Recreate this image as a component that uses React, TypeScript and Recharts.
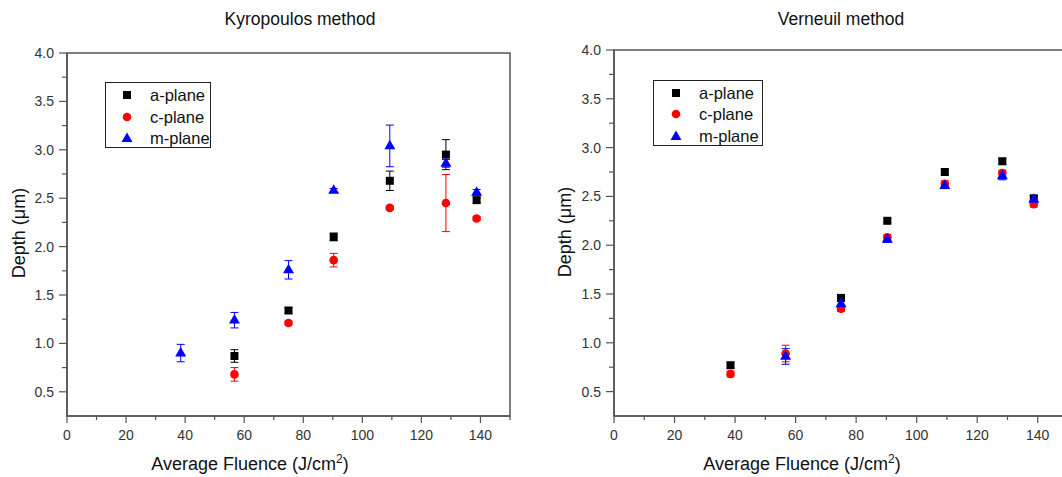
import { ErrorBar, Legend, ReferenceArea, Scatter, ScatterChart, XAxis, YAxis } from "recharts";

const AXIS = "#555";
const TICK = "#333";
const FONT = "'Liberation Sans', Arial, sans-serif";

// fluence values (J/cm2), same for both crystals
const fluence = [38.5, 56.7, 75.0, 90.3, 109.3, 128.3, 138.7];

const xTicks = [0, 10, 20, 30, 40, 50, 60, 70, 80, 90, 100, 110, 120, 130, 140, 150];
const yTicks = [0.5, 0.75, 1.0, 1.25, 1.5, 1.75, 2.0, 2.25, 2.5, 2.75, 3.0, 3.25, 3.5, 3.75, 4.0];

// Kyropoulos
const kyroA = [null, 0.87, 1.34, 2.1, 2.68, 2.95, 2.48];
const kyroAErr = [null, 0.065, 0.03, 0.04, 0.1, 0.155, 0.03];
const kyroC = [null, 0.68, 1.21, 1.86, 2.4, 2.45, 2.29];
const kyroCErr = [null, 0.07, 0.02, 0.07, 0.02, 0.295, 0.02];
const kyroM = [0.9, 1.24, 1.76, 2.58, 3.04, 2.86, 2.56];
const kyroMErr = [0.09, 0.08, 0.095, 0.02, 0.215, 0.04, 0.03];

// Verneuil
const vernA = [0.77, null, 1.46, 2.25, 2.75, 2.86, 2.48];
const vernAErr = [0.03, null, 0.03, 0.02, 0.03, 0.03, 0.03];
const vernC = [0.68, 0.89, 1.35, 2.08, 2.63, 2.74, 2.42];
const vernCErr = [0.03, 0.085, 0.03, 0.03, 0.03, 0.03, 0.03];
const vernM = [null, 0.86, 1.4, 2.06, 2.61, 2.71, 2.47];
const vernMErr = [null, 0.08, 0.03, 0.03, 0.03, 0.04, 0.04];

const seriesNames = ["a-plane", "c-plane", "m-plane"];
const seriesColors = ["#000000", "#ff0000", "#0000ff"];

type Pt = { x: number; y: number; e: number };

function toPoints(ys: (number | null)[], es: (number | null)[]): Pt[] {
  const out: Pt[] = [];
  fluence.forEach((x, i) => {
    const y = ys[i];
    if (y != null) out.push({ x, y, e: es[i] ?? 0 });
  });
  return out;
}

const Square = (p: any) => <rect x={p.cx - 4} y={p.cy - 4} width={8} height={8} fill={seriesColors[0]} />;
const Dot = (p: any) => <circle cx={p.cx} cy={p.cy} r={4.3} fill={seriesColors[1]} />;
const Tri = (p: any) => (
  <path d={`M${p.cx},${p.cy - 6.2}L${p.cx - 5.5},${p.cy + 3.4}L${p.cx + 5.5},${p.cy + 3.4}Z`} fill={seriesColors[2]} />
);
const shapes = [Square, Dot, Tri];

function XTick(props: any) {
  const { x, y, payload } = props;
  const major = payload.value % 20 === 0;
  return (
    <g>
      <line x1={x} x2={x} y1={y} y2={y + (major ? 7 : 4)} stroke={AXIS} strokeWidth={1.2} />
      {major && (
        <text x={x} y={y + 24} textAnchor="middle" fontSize={14} fill={TICK} fontFamily={FONT}>
          {payload.value}
        </text>
      )}
    </g>
  );
}

function YTick(props: any) {
  const { x, y, payload } = props;
  const v = payload.value as number;
  const major = Math.abs(v * 2 - Math.round(v * 2)) < 1e-6;
  return (
    <g>
      <line x1={x - (major ? 8 : 5)} x2={x} y1={y} y2={y} stroke={AXIS} strokeWidth={1.2} />
      {major && (
        <text x={x - 13} y={y + 5} textAnchor="end" fontSize={14} fill={TICK} fontFamily={FONT}>
          {v.toFixed(1)}
        </text>
      )}
    </g>
  );
}

function LegendBox({ width, markerX, textX, rows }: { width: number; markerX: number; textX: number; rows: number[] }) {
  return (
    <div
      style={{
        position: "relative",
        width,
        height: 66,
        border: "1px solid #222",
        boxSizing: "border-box",
        background: "#fff",
        fontFamily: FONT,
        fontSize: 16.5,
        color: "#111",
      }}
    >
      {seriesNames.map((name, i) => (
        <div key={name} style={{ position: "absolute", left: 0, top: rows[i] - 11, height: 22, width: "100%" }}>
          <svg width={14} height={14} style={{ position: "absolute", left: markerX - 7, top: 4 }}>
            {i === 0 && <rect x={3} y={3} width={8} height={8} fill={seriesColors[0]} />}
            {i === 1 && <circle cx={7} cy={7} r={4.3} fill={seriesColors[1]} />}
            {i === 2 && <path d="M7,1.5L1.5,11L12.5,11Z" fill={seriesColors[2]} />}
          </svg>
          <span style={{ position: "absolute", left: textX, top: 0, lineHeight: "22px" }}>{name}</span>
        </div>
      ))}
    </div>
  );
}

type PanelProps = {
  left: number;
  width: number;
  margin: { top: number; right: number; bottom: number; left: number };
  yAxisWidth: number;
  sets: Pt[][];
  legendPos: { left: number; top: number };
  legendBox: { width: number; markerX: number; textX: number; rows: number[] };
};

function Panel({ left, width, margin, yAxisWidth, sets, legendPos, legendBox }: PanelProps) {
  return (
    <div style={{ position: "absolute", left, top: 0 }}>
      <ScatterChart width={width} height={477} margin={margin}>
        <XAxis
          dataKey="x"
          type="number"
          domain={[0, 150]}
          ticks={xTicks}
          interval={0}
          height={50}
          tickSize={0}
          tickMargin={0}
          tickLine={false}
          axisLine={{ stroke: AXIS, strokeWidth: 1.5 }}
          tick={XTick}
        />
        <YAxis
          dataKey="y"
          type="number"
          domain={[0.25, 4]}
          ticks={yTicks}
          interval={0}
          width={yAxisWidth}
          tickSize={0}
          tickMargin={0}
          tickLine={false}
          axisLine={{ stroke: AXIS, strokeWidth: 1.5 }}
          tick={YTick}
        />
        <ReferenceArea x1={0} x2={150} y1={0.25} y2={4} fill="none" stroke={AXIS} strokeWidth={1.5} ifOverflow="visible" />
        {sets.map((pts, i) => (
          <Scatter
            key={seriesNames[i]}
            name={seriesNames[i]}
            data={pts}
            fill={seriesColors[i]}
            shape={shapes[i]}
            isAnimationActive={false}
          >
            <ErrorBar dataKey="e" direction="y" width={4} stroke={seriesColors[i]} strokeWidth={1} isAnimationActive={false} />
          </Scatter>
        ))}
        <Legend
          layout="horizontal"
          verticalAlign="middle"
          align="center"
          wrapperStyle={{ left: legendPos.left, top: legendPos.top, width: "auto" }}
          content={() => <LegendBox {...legendBox} />}
        />
      </ScatterChart>
    </div>
  );
}

export default function App() {
  const kyroSets = [toPoints(kyroA, kyroAErr), toPoints(kyroC, kyroCErr), toPoints(kyroM, kyroMErr)];
  const vernSets = [toPoints(vernA, vernAErr), toPoints(vernC, vernCErr), toPoints(vernM, vernMErr)];

  return (
    <div
      style={{
        position: "fixed",
        left: 0,
        top: 0,
        width: 1062,
        height: 477,
        overflow: "hidden",
        background: "#fff",
        fontFamily: FONT,
      }}
    >
      <Panel
        left={0}
        width={530}
        margin={{ top: 53, right: 20, bottom: 11, left: 7 }}
        yAxisWidth={60}
        sets={kyroSets}
        legendPos={{ left: 105, top: 82 }}
        legendBox={{ width: 106, markerX: 21, textX: 44, rows: [12, 33.5, 54.5] }}
      />
      <Panel
        left={540}
        width={540}
        margin={{ top: 50, right: 12, bottom: 11, left: 14 }}
        yAxisWidth={60}
        sets={vernSets}
        legendPos={{ left: 113, top: 80 }}
        legendBox={{ width: 110, markerX: 22, textX: 45, rows: [12, 33.3, 54.7] }}
      />
      <svg width={1062} height={477} style={{ position: "absolute", left: 0, top: 0, pointerEvents: "none" }}>
        <g fontFamily={FONT} fill="#111">
          <text x={300} y={25} fontSize={17.5} textAnchor="middle">Kyropoulos method</text>
          <text x={841} y={25} fontSize={17.5} textAnchor="middle">Verneuil method</text>

          <text x={250} y={470} fontSize={18} textAnchor="middle">
            Average Fluence (J/cm<tspan dy={-7} fontSize={12}>2</tspan>
            <tspan dy={7}>)</tspan>
          </text>
          <text x={802} y={470} fontSize={18} textAnchor="middle">
            Average Fluence (J/cm<tspan dy={-7} fontSize={12}>2</tspan>
            <tspan dy={7}>)</tspan>
          </text>

          <text x={25} y={233} fontSize={18} textAnchor="middle" transform="rotate(-90 25 233)">Depth (μm)</text>
          <text x={571} y={232} fontSize={18} textAnchor="middle" transform="rotate(-90 571 232)">Depth (μm)</text>
        </g>
      </svg>
    </div>
  );
}
